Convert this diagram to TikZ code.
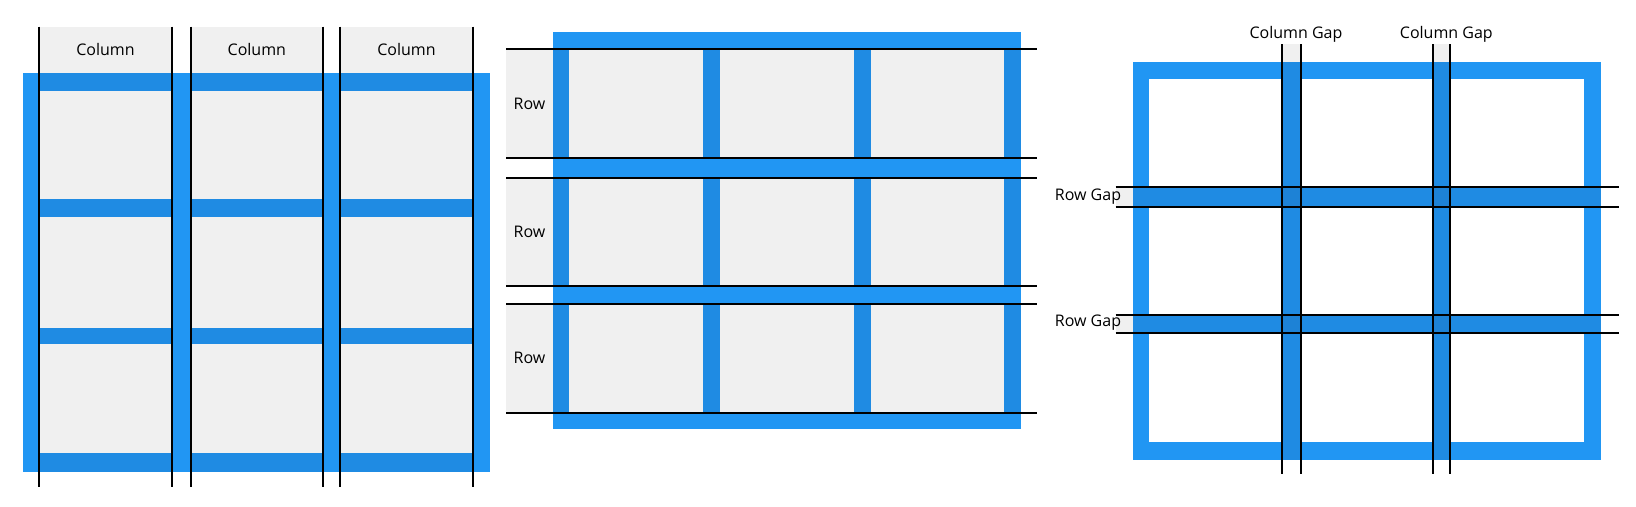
\documentclass[tikz,border=0pt]{standalone}
\usepackage{fontspec}
\setmainfont{Open Sans}
\definecolor{lblue}{HTML}{2196F3}
\definecolor{dblue}{HTML}{1F8BE3}
\definecolor{xblue}{HTML}{1D82D6}
\definecolor{cgrey}{HTML}{F0F0F0}
\tikzset{
  gline/.style={black, line width=1pt},
  glabel/.style={font=\fontsize{8}{9.6}\selectfont, inner sep=0pt, text=black},
}
\begin{document}
\begin{tikzpicture}[x=0.5pt,y=-0.5pt]
\useasboundingbox (0,0) rectangle (1636,507);
% ---------------- left panel: columns ----------------
\fill[lblue] (23,73) rectangle (490,472.3);
\foreach \xa/\xb/\i in {39/172/1, 190.7/323/2, 340/473/3}{
  \fill[cgrey] (\xa,26.7) rectangle (\xb,472.3);
  \foreach \ya/\yb in {73/90.7, 199.3/216.7, 327.7/344.3, 453.3/472.3}{
    \fill[dblue] (\xa,\ya) rectangle (\xb,\yb);
  }
  \coordinate (cl\i t) at (\xa,26.7);
  \coordinate (cl\i b) at (\xa,486.7);
  \coordinate (cr\i t) at (\xb,26.7);
  \coordinate (cr\i b) at (\xb,486.7);
  \draw[gline] (cl\i t) -- (cl\i b);
  \draw[gline] (cr\i t) -- (cr\i b);
  \node[glabel] (col\i) at ({(\xa+\xb)/2},50) {Column};
}
% ---------------- middle panel: rows ----------------
\fill[lblue] (552.7,32.3) rectangle (1021,429.3);
\foreach \ya/\yb/\i in {49.3/158/1, 178/285.9/2, 304.2/412.5/3}{
  \fill[cgrey] (506,\ya) rectangle (1021,\yb);
  \foreach \xa/\xb in {552.7/569.3, 702.7/720, 853.7/870.7, 1004.3/1021}{
    \fill[dblue] (\xa,\ya) rectangle (\xb,\yb);
  }
  \coordinate (rt\i l) at (506,\ya);
  \coordinate (rt\i r) at (1036.7,\ya);
  \coordinate (rb\i l) at (506,\yb);
  \coordinate (rb\i r) at (1036.7,\yb);
  \draw[gline] (rt\i l) -- (rt\i r);
  \draw[gline] (rb\i l) -- (rb\i r);
  \node[glabel] (row\i) at (529.5,{(\ya+\yb)/2}) {Row};
}
% ---------------- right panel: gaps ----------------
\fill[lblue] (1132.8,61.7) rectangle (1601,460);
\fill[white] (1149.3,78.7) rectangle (1584.3,441.7);
\foreach \xa/\xb/\i in {1282/1300.7/1, 1433/1450/2}{
  \fill[cgrey] (\xa,44.3) rectangle (\xb,61.7);
  \fill[dblue] (\xa,61.7) rectangle (\xb,460);
}
\foreach \ya/\yb/\i in {187/207.3/1, 315.3/333.3/2}{
  \fill[cgrey] (1115.6,\ya) rectangle (1132.8,\yb);
  \fill[dblue] (1132.8,\ya) rectangle (1601,\yb);
  \foreach \xa/\xb in {1282/1300.7, 1433/1450}{
    \fill[xblue] (\xa,\ya) rectangle (\xb,\yb);
  }
}
\foreach \xa/\xb/\i in {1282/1300.7/1, 1433/1450/2}{
  \coordinate (gl\i t) at (\xa,44.3);
  \coordinate (gl\i b) at (\xa,474.3);
  \coordinate (gr\i t) at (\xb,44.3);
  \coordinate (gr\i b) at (\xb,474.3);
  \draw[gline] (gl\i t) -- (gl\i b);
  \draw[gline] (gr\i t) -- (gr\i b);
}
\foreach \ya/\yb/\i in {187/207.3/1, 315.3/333.3/2}{
  \coordinate (ht\i l) at (1115.6,\ya);
  \coordinate (ht\i r) at (1618.7,\ya);
  \coordinate (hb\i l) at (1115.6,\yb);
  \coordinate (hb\i r) at (1618.7,\yb);
  \draw[gline] (ht\i l) -- (ht\i r);
  \draw[gline] (hb\i l) -- (hb\i r);
}
\node[glabel] (cg1) at (1296,34) {Column Gap};
\node[glabel] (cg2) at (1446.3,34.5) {Column Gap};
\node[glabel] (rg1) at (1088,196.7) {Row Gap};
\node[glabel] (rg2) at (1088,322.7) {Row Gap};
\end{tikzpicture}
\end{document}
